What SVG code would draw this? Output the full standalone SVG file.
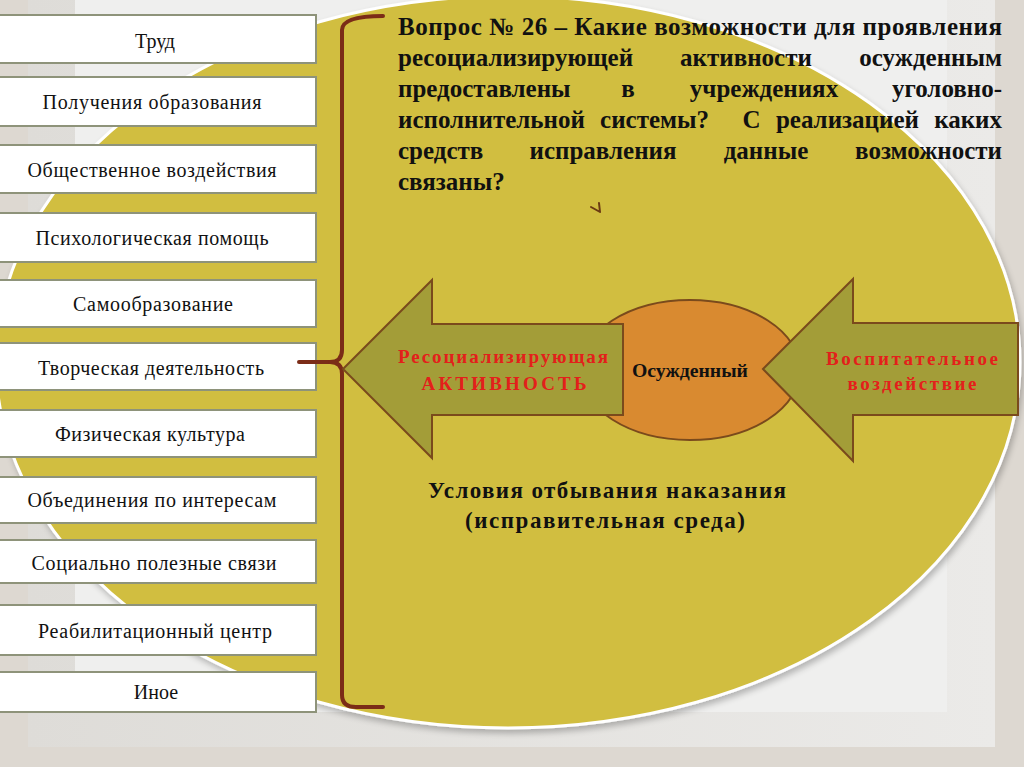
<svg xmlns="http://www.w3.org/2000/svg" width="1024" height="767" viewBox="0 0 1024 767">
  <defs>
    <filter id="shadow" x="-5%" y="-5%" width="110%" height="110%">
      <feGaussianBlur in="SourceAlpha" stdDeviation="3"/>
      <feOffset dx="2" dy="4" result="b"/>
      <feComponentTransfer><feFuncA type="linear" slope="0.25"/></feComponentTransfer>
      <feMerge><feMergeNode/><feMergeNode in="SourceGraphic"/></feMerge>
    </filter>
    <linearGradient id="leftband" x1="0" y1="0" x2="1" y2="0">
      <stop offset="0" stop-color="#dedcd8"/>
      <stop offset="1" stop-color="#ebeae8"/>
    </linearGradient>
  </defs>
  <style>
    .box { fill: #ffffff; stroke: #8e937a; stroke-width: 2; }
    .lbl { font-family: "Liberation Serif", "Times New Roman", serif; font-size: 20px; fill: #111; text-anchor: middle; }
    .title { font-family: "Liberation Serif", "Times New Roman", serif; font-size: 25px; font-weight: bold; fill: #111; }
    .red { font-family: "Liberation Serif", "Times New Roman", serif; font-size: 19px; font-weight: bold; fill: #e3201b; text-anchor: middle; }
    .arrow { fill: #a39d38; stroke: #7a4a1c; stroke-width: 2; stroke-linejoin: miter; }
    .brace { fill: none; stroke: #7b2c17; stroke-width: 4; stroke-linecap: round; stroke-linejoin: round; }
    .cond { font-family: "Liberation Serif", "Times New Roman", serif; font-size: 23px; font-weight: bold; fill: #111; text-anchor: middle; }
  </style>

  <!-- background -->
  <rect x="0" y="0" width="1024" height="767" fill="#ddd8d1"/>
  <rect x="28" y="-10" width="967" height="757" fill="url(#leftband)"/>
  <rect x="75" y="-10" width="872" height="722" fill="#efefee"/>

  <!-- big ellipse -->
  <g id="environment">
    <ellipse cx="508" cy="362" rx="512" ry="366" fill="#d1be40" stroke="#ffffff" stroke-width="3" filter="url(#shadow)"/>
  </g>

  <!-- left boxes -->
  <g id="n-trud"><rect class="box" x="-3" y="15" width="319" height="48"/><text class="lbl" x="155" y="48">Труд</text></g>
  <g id="n-obrazovanie"><rect class="box" x="-3" y="77" width="319" height="49"/><text class="lbl" x="152" y="109" textLength="219" lengthAdjust="spacing">Получения образования</text></g>
  <g id="n-obshchestvennoe"><rect class="box" x="-3" y="145" width="319" height="48"/><text class="lbl" x="152" y="177" textLength="249" lengthAdjust="spacing">Общественное воздействия</text></g>
  <g id="n-psikh"><rect class="box" x="-3" y="213" width="319" height="49"/><text class="lbl" x="152" y="245" textLength="233" lengthAdjust="spacing">Психологическая помощь</text></g>
  <g id="n-samoobr"><rect class="box" x="-3" y="280" width="319" height="47"/><text class="lbl" x="153" y="311" textLength="160" lengthAdjust="spacing">Самообразование</text></g>
  <g id="n-tvorch"><rect class="box" x="-3" y="343" width="319" height="47"/><text class="lbl" x="151" y="375" textLength="226" lengthAdjust="spacing">Творческая деятельность</text></g>
  <g id="n-fizich"><rect class="box" x="-3" y="410" width="319" height="47"/><text class="lbl" x="150" y="441" textLength="190" lengthAdjust="spacing">Физическая культура</text></g>
  <g id="n-obyed"><rect class="box" x="-3" y="477" width="319" height="46"/><text class="lbl" x="152" y="507" textLength="249" lengthAdjust="spacing">Объединения по интересам</text></g>
  <g id="n-social"><rect class="box" x="-3" y="540" width="319" height="43"/><text class="lbl" x="154" y="570" textLength="245" lengthAdjust="spacing">Социально полезные связи</text></g>
  <g id="n-reab"><rect class="box" x="-3" y="605" width="319" height="50"/><text class="lbl" x="155" y="638" textLength="234" lengthAdjust="spacing">Реабилитационный центр</text></g>
  <g id="n-inoe"><rect class="box" x="-3" y="672" width="319" height="40"/><text class="lbl" x="156" y="699">Иное</text></g>

  <!-- connectors: brace -->
  <g id="connectors">
    <path class="brace" d="M383,16 Q342,16 342,30 L342,350 Q342,362 330,362 L299,362"/>
    <path class="brace" d="M330,362 Q342,362 342,374 L342,695 Q342,707 356,707 L383,707"/>
    <path d="M591,207 L600,212 L599,203" fill="none" stroke="#6b3a12" stroke-width="2" stroke-linecap="round" stroke-linejoin="round"/>
  </g>

  <!-- title -->
  <g id="title">
    <text class="title" x="398" y="35" textLength="604" lengthAdjust="spacing">Вопрос № 26 – Какие возможности для проявления</text>
    <text class="title" y="66" x="398">ресоциализирующей</text>
    <text class="title" y="66" x="746" text-anchor="middle">активности</text>
    <text class="title" y="66" x="1002" text-anchor="end">осужденным</text>
    <text class="title" y="97" x="398">предоставлены</text>
    <text class="title" y="97" x="628" text-anchor="middle">в</text>
    <text class="title" y="97" x="764" text-anchor="middle">учреждениях</text>
    <text class="title" y="97" x="1002" text-anchor="end">уголовно-</text>
    <text class="title" y="128" x="398" word-spacing="9">исполнительной системы?</text>
    <text class="title" y="128" x="1002" text-anchor="end" word-spacing="9">С реализацией каких</text>
    <text class="title" y="159" x="398">средств</text>
    <text class="title" y="159" x="603" text-anchor="middle">исправления</text>
    <text class="title" y="159" x="766" text-anchor="middle">данные</text>
    <text class="title" y="159" x="1002" text-anchor="end">возможности</text>
    <text class="title" y="190" x="398">связаны?</text>
  </g>

  <!-- convict -->
  <g id="n-osuzhdenny">
    <ellipse cx="690" cy="370" rx="110" ry="70" fill="#d98a30" stroke="#7a4a1c" stroke-width="2"/>
    <text x="690" y="377" text-anchor="middle" font-family="Liberation Serif, Times New Roman, serif" font-size="18" font-weight="bold" fill="#111" textLength="116" lengthAdjust="spacingAndGlyphs">Осужденный</text>
  </g>

  <!-- left arrow -->
  <g id="n-resoc">
    <polygon class="arrow" points="343,369 432,280 432,324 623,324 623,415 432,415 432,458"/>
    <text class="red" x="503" y="363" textLength="210" lengthAdjust="spacing">Ресоциализирующая</text>
    <text class="red" x="504" y="390" textLength="165" lengthAdjust="spacing">АКТИВНОСТЬ</text>
  </g>

  <!-- right arrow -->
  <g id="n-vospit">
    <polygon class="arrow" points="763,369 853,279 853,323 1018,323 1018,415 853,415 853,461"/>
    <text class="red" x="912" y="365" textLength="172" lengthAdjust="spacing">Воспитательное</text>
    <text class="red" x="912" y="390" textLength="129" lengthAdjust="spacing">воздействие</text>
  </g>

  <!-- conditions -->
  <g id="n-conditions">
    <text class="cond" x="607" y="498" textLength="358" lengthAdjust="spacing">Условия отбывания наказания</text>
    <text class="cond" x="605" y="528" textLength="280" lengthAdjust="spacing">(исправительная среда)</text>
  </g>
</svg>
